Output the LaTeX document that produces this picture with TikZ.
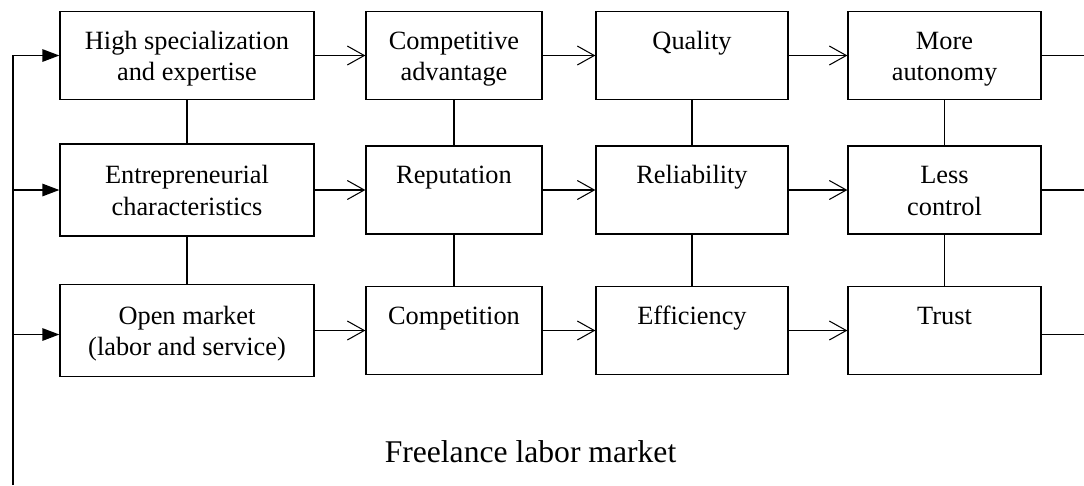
\documentclass[tikz,border=0pt]{standalone}
\usepackage{fontspec}
\setmainfont{Liberation Serif}
\usetikzlibrary{arrows.meta}

\begin{document}
\begin{tikzpicture}[x=0.02cm, y=-0.02cm]
  \tikzstyle{box}=[draw, line width=0.75pt, align=center, font=\fontsize{15}{18.2}\selectfont, inner ysep=0pt, text height=10pt, text depth=17.4pt, minimum height=1.76cm]
  \tikzstyle{pair}=[box, text height=38.2pt, text depth=9.2pt]
  \tikzstyle{suite}=[-{Straight Barb[length=0.34cm,width=0.38cm]}, line width=0.6pt]
  \tikzstyle{feed}=[-{Triangle[length=0.34cm,width=0.25cm]}, line width=0.75pt]
  \tikzstyle{link}=[line width=0.75pt]

  \useasboundingbox (0,0) rectangle (1084,485);

  % Top row
  \node[pair, minimum width=5.08cm] (spec) at (187,55.5) {High specialization\\and expertise};
  \node[pair, minimum width=3.52cm] (adv) at (454,55.5) {Competitive\\advantage};
  \node[box, minimum width=3.84cm] (qual) at (692,55.5) {Quality};
  \node[pair, minimum width=3.86cm] (auto) at (944.5,55.5) {More\\autonomy};
  % Middle row
  \node[pair, minimum width=5.08cm, minimum height=1.84cm] (entr) at (187,190) {Entrepreneurial\\characteristics};
  \node[box, minimum width=3.52cm] (rep) at (454,190) {Reputation};
  \node[box, minimum width=3.84cm] (rel) at (692,190) {Reliability};
  \node[pair, minimum width=3.86cm] (ctrl) at (944.5,190) {Less\\control};
  % Bottom row
  \node[pair, minimum width=5.08cm, minimum height=1.84cm] (open) at (187,330.5) {Open market\\(labor and service)};
  \node[box, minimum width=3.52cm] (comp) at (454,330.5) {Competition};
  \node[box, minimum width=3.84cm] (eff) at (692,330.5) {Efficiency};
  \node[box, minimum width=3.86cm] (trust) at (944.5,330.5) {Trust};

  \node[font=\fontsize{18}{21}\selectfont, anchor=base] (title) at (530.5,462) {Freelance labor market};

  \coordinate (lbot) at (13,485); % Left edge
  \coordinate (redge) at (1084,0); % Right edge

  % Arrows along the rows
  \draw[suite] (spec) -- (adv);
  \draw[suite] (adv) -- (qual);
  \draw[suite] (qual) -- (auto);
  \draw[suite] (entr) -- (rep);
  \draw[suite] (rep) -- (rel);
  \draw[suite] (rel) -- (ctrl);
  \draw[suite] (open) -- (comp);
  \draw[suite] (comp) -- (eff);
  \draw[suite] (eff) -- (trust);

  % Links between the rows
  \draw[link] (spec) -- (entr);
  \draw[link] (entr) -- (open);
  \draw[link] (adv) -- (rep);
  \draw[link] (rep) -- (comp);
  \draw[link] (qual) -- (rel);
  \draw[link] (rel) -- (eff);
  \draw[link] (auto) -- (ctrl);
  \draw[link] (ctrl) -- (trust);

  % Feedback on the left
  \draw[feed] (lbot) -- (lbot |- spec.west) -- (spec.west);
  \draw[feed] (lbot |- entr.west) -- (entr.west);
  \draw[feed] ([yshift=-0.08cm]open.west -| lbot) -- ([yshift=-0.08cm]open.west);

  % Lines out on the right
  \draw[link] (auto.east) -- (auto.east -| redge);
  \draw[link] (ctrl.east) -- (ctrl.east -| redge);
  \draw[link] ([yshift=-0.08cm]trust.east) -- ([yshift=-0.08cm]trust.east -| redge);
\end{tikzpicture}
\end{document}
